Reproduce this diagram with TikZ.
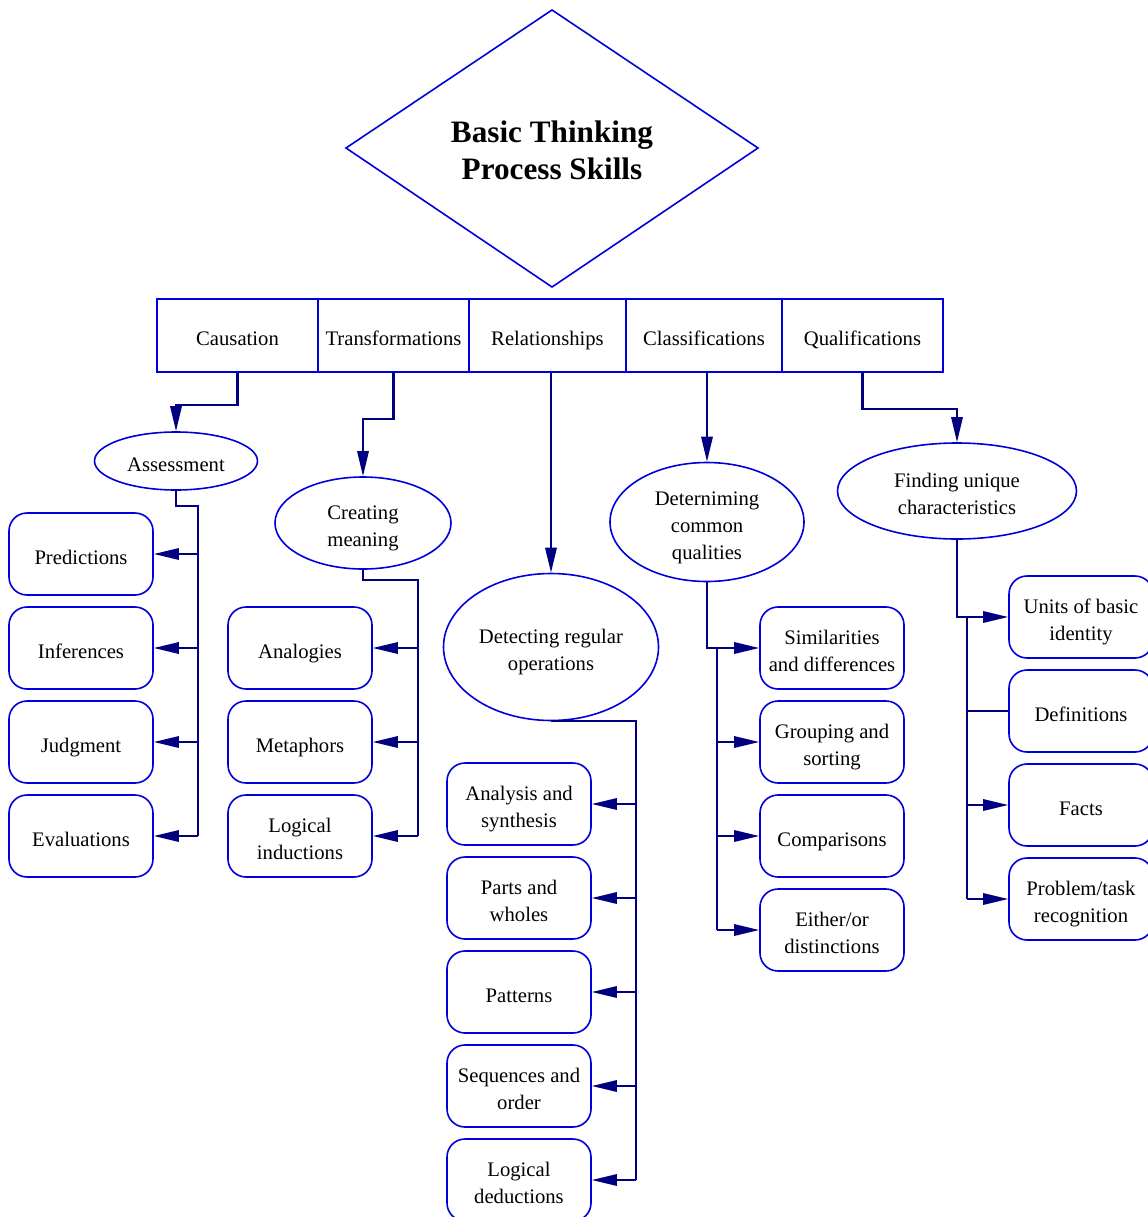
\documentclass[tikz,border=0pt]{standalone}
\usepackage{fontspec}
\setmainfont{Liberation Serif}
\usetikzlibrary{shapes.geometric,arrows.meta,calc}
\definecolor{edgeblue}{RGB}{0,0,220}
\definecolor{linknavy}{RGB}{0,0,128}
% struts: height of the first line, depth of the last one
\newcommand\topstrut{\rule{0pt}{18.6pt}}
\newcommand\botstrut{\rule[-3.6pt]{0pt}{3.6pt}}
\tikzset{
  txt/.style={font=\fontsize{15.5}{20.25}\selectfont, align=center, text=black},
  leaf/.style={txt, draw=edgeblue, line width=1.2pt, rounded corners=13.5pt,
    minimum width=108pt, minimum height=61.5pt, inner sep=0pt},
  cat/.style={txt, draw=edgeblue, line width=1.2pt, minimum height=54.75pt, inner sep=0pt},
  oval/.style={txt, ellipse, draw=edgeblue, line width=1.2pt, inner sep=0pt},
  link/.style={draw=linknavy, line width=1.6pt},
  arrowlink/.style={link, -{Triangle[length=18.75pt,width=8.5pt]}},
}
\begin{document}
\begin{tikzpicture}[x=0.75pt,y=-0.75pt]
\useasboundingbox (0,0) rectangle (1148,1217);
\clip (0,0) rectangle (1148,1217);

% title diamond
\coordinate (dtop) at (552,10);
\coordinate (dright) at (758,148);
\coordinate (dbottom) at (552,287);
\coordinate (dleft) at (346,148);
\draw[edgeblue, line width=1.2pt] (dtop) -- (dright) -- (dbottom) -- (dleft) -- cycle;
\node[align=center, font=\fontsize{23.4}{28}\selectfont\bfseries] (title) at (552,150)
  {Basic Thinking\\Process Skills};

% category row
\node[cat, minimum width=120.75pt] (caus)  at (237.5,335.5) {\topstrut Causation\botstrut};
\node[cat, minimum width=113.25pt] (trans) at (393.5,335.5) {\topstrut Transformations\botstrut};
\node[cat, minimum width=117.75pt] (rel)   at (547.5,335.5) {\topstrut Relationships\botstrut};
\node[cat, minimum width=117pt]    (class) at (704,335.5)   {\topstrut Classifications\botstrut};
\node[cat, minimum width=120.75pt] (qual)  at (862.5,335.5) {\topstrut Qualifications\botstrut};

% second level
\node[oval, minimum width=122.25pt, minimum height=43.5pt] (assess) at (176,461)
  {\topstrut Assessment\botstrut};
\node[oval, minimum width=132pt, minimum height=69pt] (create) at (363,523)
  {\topstrut Creating\\meaning\botstrut};
\node[oval, minimum width=161.25pt, minimum height=110.25pt] (detect) at (551,647)
  {\topstrut Detecting regular\\operations\botstrut};
\node[oval, minimum width=145.5pt, minimum height=89.25pt] (determ) at (707,522)
  {\topstrut Deterniming\\common\\qualities\botstrut};
\node[oval, minimum width=179.25pt, minimum height=72pt] (find) at (957,491)
  {\topstrut Finding unique\\characteristics\botstrut};

% leaves: causation
\node[leaf] (pred)  at (81,554) {\topstrut Predictions\botstrut};
\node[leaf] (infer) at (81,648) {\topstrut Inferences\botstrut};
\node[leaf] (judg)  at (81,742) {\topstrut Judgment\botstrut};
\node[leaf] (eval)  at (81,836) {\topstrut Evaluations\botstrut};
% leaves: transformations
\node[leaf] (analog) at (300,648) {\topstrut Analogies\botstrut};
\node[leaf] (meta)   at (300,742) {\topstrut Metaphors\botstrut};
\node[leaf] (linduc) at (300,836) {\topstrut Logical\\inductions\botstrut};
% leaves: relationships
\node[leaf] (anal)   at (519,804)  {\topstrut Analysis and\\synthesis\botstrut};
\node[leaf] (parts)  at (519,898)  {\topstrut Parts and\\wholes\botstrut};
\node[leaf] (patt)   at (519,992)  {\topstrut Patterns\botstrut};
\node[leaf] (seq)    at (519,1086) {\topstrut Sequences and\\order\botstrut};
\node[leaf] (ldeduc) at (519,1180) {\topstrut Logical\\deductions\botstrut};
% leaves: classifications
\node[leaf] (simil)  at (832,648) {\topstrut Similarities\\and differences\botstrut};
\node[leaf] (group)  at (832,742) {\topstrut Grouping and\\sorting\botstrut};
\node[leaf] (compar) at (832,836) {\topstrut Comparisons\botstrut};
\node[leaf] (either) at (832,930) {\topstrut Either/or\\distinctions\botstrut};
% leaves: qualifications
\node[leaf] (units) at (1081,617) {\topstrut Units of basic\\identity\botstrut};
\node[leaf] (defs)  at (1081,711) {\topstrut Definitions\botstrut};
\node[leaf] (facts) at (1081,805) {\topstrut Facts\botstrut};
\node[leaf] (probl) at (1081,899) {\topstrut Problem/task\\recognition\botstrut};

% category to second level
\draw[arrowlink] (caus.south) -- ++(0,32) -| (assess.north);
\draw[arrowlink] (trans.south) -- ++(0,46) -| (create.north);
\draw[arrowlink] (rel.south -| detect.north) -- (detect.north);
\draw[arrowlink] (class.south -| determ.north) -- (determ.north);
\draw[arrowlink] (qual.south) -- ++(0,36) -| (find.north);

% assessment bus
\coordinate (busA) at (198,554);
\draw[link] (assess.south) -- ++(0,15) -| (busA) -- (busA |- eval.east);
\foreach \n in {pred,infer,judg,eval}
  \draw[arrowlink] (busA |- \n.east) -- (\n.east);

% creating meaning bus
\coordinate (busB) at (418,836);
\draw[link] (create.south) -- ++(0,10) -| (busB);
\foreach \n in {analog,meta,linduc}
  \draw[arrowlink] (busB |- \n.east) -- (\n.east);

% detecting bus
\coordinate (busC) at (636,1180);
\draw[link] (detect.south) -| (busC);
\foreach \n in {anal,parts,patt,seq,ldeduc}
  \draw[arrowlink] (busC |- \n.east) -- (\n.east);

% determining bus
\coordinate (busD) at (717,930);
\draw[arrowlink] (determ.south) |- (simil.west);
\draw[link] (busD |- simil.west) -- (busD);
\foreach \n in {group,compar,either}
  \draw[arrowlink] (busD |- \n.west) -- (\n.west);

% finding bus
\coordinate (busE) at (967,899);
\draw[arrowlink] (find.south) |- (units.west);
\draw[link] (busE |- units.west) -- (busE);
\draw[link] (busE |- defs.west) -- (defs.west);
\foreach \n in {facts,probl}
  \draw[arrowlink] (busE |- \n.west) -- (\n.west);
\end{tikzpicture}
\end{document}
